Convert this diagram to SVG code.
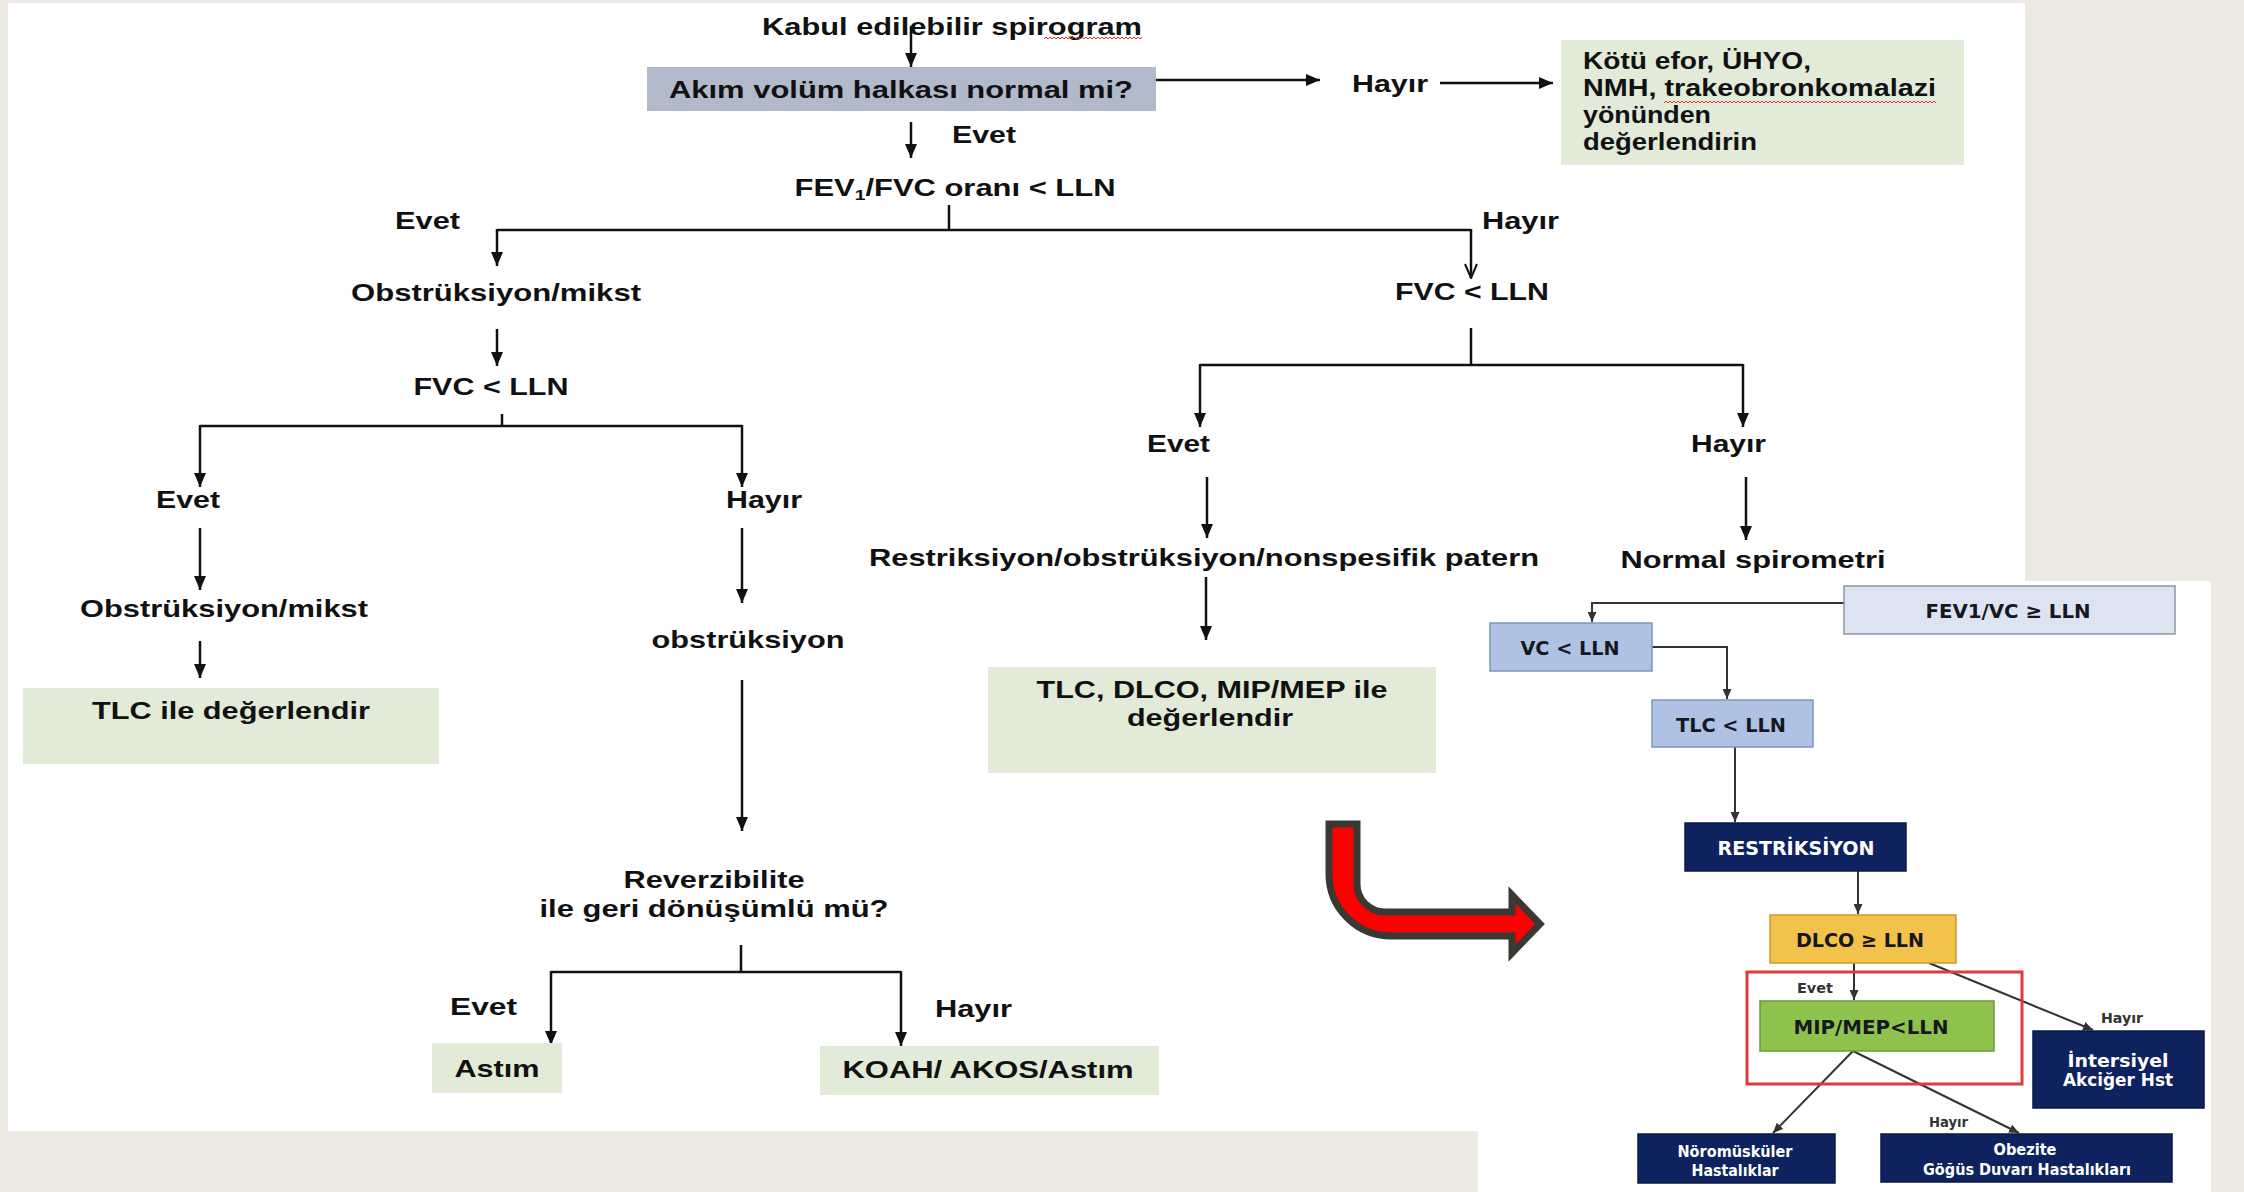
<svg xmlns="http://www.w3.org/2000/svg" width="2244" height="1192" viewBox="0 0 2244 1192">
<defs>
<style>
.t{font-family:"Liberation Sans",Arial,sans-serif;font-weight:bold;font-size:24px;fill:#111}
.tg{font-family:"Liberation Sans",Arial,sans-serif;font-weight:bold;font-size:23px;fill:#111}
.ti{font-family:"DejaVu Sans Condensed","DejaVu Sans",Verdana,sans-serif;font-weight:bold;font-size:20px;fill:#16181f}
.tw{font-family:"DejaVu Sans Condensed","DejaVu Sans",Verdana,sans-serif;font-weight:bold;fill:#fff}
.ts{font-family:"DejaVu Sans Condensed","DejaVu Sans",Verdana,sans-serif;font-weight:bold;font-size:14px;fill:#333}
.ln{stroke:#111;stroke-width:2.5;fill:none}
.la{stroke:#111;stroke-width:2.5;fill:none;marker-end:url(#ah)}
.li{stroke:#333;stroke-width:2;fill:none;marker-end:url(#as)}
.gb{fill:#E2EAD8}
.navy{fill:#0F2260;stroke:#0A1845;stroke-width:1.5}
</style>
<marker id="ah" viewBox="0 0 14 12" refX="14" refY="6" markerWidth="14" markerHeight="12" markerUnits="userSpaceOnUse" orient="auto"><path d="M0,0L14,6L0,12Z" fill="#111"/></marker>
<marker id="ao" viewBox="0 0 16 14" refX="15" refY="7" markerWidth="16" markerHeight="14" markerUnits="userSpaceOnUse" orient="auto"><path d="M1,1L15,7L1,13" fill="none" stroke="#111" stroke-width="2"/></marker>
<marker id="as" viewBox="0 0 10 9" refX="10" refY="4.5" markerWidth="10" markerHeight="9" markerUnits="userSpaceOnUse" orient="auto"><path d="M0,0L10,4.5L0,9Z" fill="#333"/></marker>
<pattern id="sq" width="4" height="4" patternUnits="userSpaceOnUse"><path d="M0,3L2,1L4,3" fill="none" stroke="#D83030" stroke-width="1"/></pattern>
</defs>

<rect x="0" y="0" width="2244" height="1192" fill="#EDEAE3"/>
<rect x="8" y="3" width="2017" height="1128" fill="#FFFFFF"/>

<g id="connectors">
<line class="la" x1="911" y1="26" x2="911" y2="67"/>
<line class="la" x1="1156" y1="80" x2="1320" y2="80"/>
<line class="la" x1="1440" y1="83" x2="1553" y2="83"/>
<line class="la" x1="911" y1="122" x2="911" y2="158"/>
<line class="ln" x1="949" y1="205" x2="949" y2="230"/>
<polyline class="ln" points="497,230 1471,230"/>
<line class="la" x1="497" y1="229" x2="497" y2="266"/>
<line class="ln" x1="1471" y1="229" x2="1471" y2="278" style="marker-end:url(#ao)"/>
<line class="la" x1="497" y1="329" x2="497" y2="366"/>
<line class="ln" x1="502" y1="414" x2="502" y2="426"/>
<line class="ln" x1="200" y1="426" x2="742" y2="426"/>
<line class="la" x1="200" y1="425" x2="200" y2="487"/>
<line class="la" x1="742" y1="425" x2="742" y2="487"/>
<line class="la" x1="200" y1="528" x2="200" y2="590"/>
<line class="la" x1="742" y1="528" x2="742" y2="603"/>
<line class="la" x1="200" y1="641" x2="200" y2="678"/>
<line class="la" x1="742" y1="680" x2="742" y2="831"/>
<line class="ln" x1="741" y1="945" x2="741" y2="972"/>
<line class="ln" x1="551" y1="972" x2="901" y2="972"/>
<line class="la" x1="551" y1="971" x2="551" y2="1045"/>
<line class="la" x1="901" y1="971" x2="901" y2="1046"/>
<line class="ln" x1="1471" y1="328" x2="1471" y2="365"/>
<line class="ln" x1="1200" y1="365" x2="1743" y2="365"/>
<line class="la" x1="1200" y1="364" x2="1200" y2="427"/>
<line class="la" x1="1743" y1="364" x2="1743" y2="427"/>
<line class="la" x1="1207" y1="477" x2="1207" y2="538"/>
<line class="la" x1="1746" y1="477" x2="1746" y2="540"/>
<line class="la" x1="1206" y1="577" x2="1206" y2="640"/>
</g>

<g id="spirogram-label">
<text class="t" x="952" y="35" text-anchor="middle" textLength="380" lengthAdjust="spacingAndGlyphs">Kabul edilebilir spirogram</text>
<rect x="1044" y="36" width="98" height="4" fill="url(#sq)"/>
</g>

<g id="node-akim">
<rect x="647" y="67" width="509" height="44" fill="#B1BACB"/>
<text class="t" x="901" y="98" text-anchor="middle" textLength="464" lengthAdjust="spacingAndGlyphs">Akım volüm halkası normal mi?</text>
</g>

<g id="label-hayir-top"><text class="t" x="1352" y="92" textLength="76" lengthAdjust="spacingAndGlyphs">Hayır</text></g>

<g id="node-kotu-efor">
<rect x="1561" y="40" width="403" height="125" class="gb"/>
<text class="tg" x="1583" y="69" textLength="228" lengthAdjust="spacingAndGlyphs">Kötü efor, ÜHYO,</text>
<text class="tg" x="1583" y="96" textLength="353" lengthAdjust="spacingAndGlyphs">NMH, trakeobronkomalazi</text>
<text class="tg" x="1583" y="123" textLength="128" lengthAdjust="spacingAndGlyphs">yönünden</text>
<text class="tg" x="1583" y="150" textLength="174" lengthAdjust="spacingAndGlyphs">değerlendirin</text>
<rect x="1664" y="100" width="272" height="4" fill="url(#sq)"/>
</g>

<g id="label-evet-top"><text class="t" x="952" y="143" textLength="64" lengthAdjust="spacingAndGlyphs">Evet</text></g>

<g id="node-fev1fvc">
<text class="t" x="955" y="196" text-anchor="middle" textLength="321" lengthAdjust="spacingAndGlyphs">FEV<tspan font-size="15" dy="4">1</tspan><tspan dy="-4">/FVC oranı &lt; LLN</tspan></text>
</g>

<g id="labels-level2">
<text class="t" x="395" y="229" textLength="65" lengthAdjust="spacingAndGlyphs">Evet</text>
<text class="t" x="1482" y="229" textLength="77" lengthAdjust="spacingAndGlyphs">Hayır</text>
</g>

<g id="node-obstr-mikst-1"><text class="t" x="496" y="301" text-anchor="middle" textLength="290" lengthAdjust="spacingAndGlyphs">Obstrüksiyon/mikst</text></g>
<g id="node-fvc-left"><text class="t" x="491" y="395" text-anchor="middle" textLength="155" lengthAdjust="spacingAndGlyphs">FVC &lt; LLN</text></g>
<g id="labels-level3">
<text class="t" x="156" y="508" textLength="64" lengthAdjust="spacingAndGlyphs">Evet</text>
<text class="t" x="726" y="508" textLength="76" lengthAdjust="spacingAndGlyphs">Hayır</text>
</g>
<g id="node-obstr-mikst-2"><text class="t" x="224" y="617" text-anchor="middle" textLength="288" lengthAdjust="spacingAndGlyphs">Obstrüksiyon/mikst</text></g>
<g id="node-tlc-ile">
<rect x="23" y="688" width="416" height="76" class="gb"/>
<text class="t" x="231" y="719" text-anchor="middle" textLength="278" lengthAdjust="spacingAndGlyphs">TLC ile değerlendir</text>
</g>
<g id="node-obstruksiyon"><text class="t" x="748" y="648" text-anchor="middle" textLength="193" lengthAdjust="spacingAndGlyphs">obstrüksiyon</text></g>
<g id="node-reverzibilite">
<text class="t" x="714" y="888" text-anchor="middle" textLength="181" lengthAdjust="spacingAndGlyphs">Reverzibilite</text>
<text class="t" x="714" y="917" text-anchor="middle" textLength="349" lengthAdjust="spacingAndGlyphs">ile geri dönüşümlü mü?</text>
</g>
<g id="labels-level5">
<text class="t" x="450" y="1015" textLength="67" lengthAdjust="spacingAndGlyphs">Evet</text>
<text class="t" x="935" y="1017" textLength="77" lengthAdjust="spacingAndGlyphs">Hayır</text>
</g>
<g id="node-astim">
<rect x="432" y="1043" width="130" height="50" class="gb"/>
<text class="t" x="497" y="1077" text-anchor="middle" textLength="85" lengthAdjust="spacingAndGlyphs">Astım</text>
</g>
<g id="node-koah">
<rect x="820" y="1046" width="339" height="49" class="gb"/>
<text class="t" x="988" y="1078" text-anchor="middle" textLength="291" lengthAdjust="spacingAndGlyphs">KOAH/ AKOS/Astım</text>
</g>

<g id="node-fvc-right"><text class="t" x="1472" y="300" text-anchor="middle" textLength="154" lengthAdjust="spacingAndGlyphs">FVC &lt; LLN</text></g>
<g id="labels-right">
<text class="t" x="1147" y="452" textLength="63" lengthAdjust="spacingAndGlyphs">Evet</text>
<text class="t" x="1691" y="452" textLength="75" lengthAdjust="spacingAndGlyphs">Hayır</text>
</g>
<g id="node-restr-patern"><text class="t" x="1204" y="566" text-anchor="middle" textLength="670" lengthAdjust="spacingAndGlyphs">Restriksiyon/obstrüksiyon/nonspesifik patern</text></g>
<g id="node-normal"><text class="t" x="1753" y="568" text-anchor="middle" textLength="265" lengthAdjust="spacingAndGlyphs">Normal spirometri</text></g>
<g id="node-tlc-dlco">
<rect x="988" y="667" width="448" height="106" class="gb"/>
<text class="t" x="1212" y="698" text-anchor="middle" textLength="351" lengthAdjust="spacingAndGlyphs">TLC, DLCO, MIP/MEP ile</text>
<text class="t" x="1210" y="726" text-anchor="middle" textLength="166" lengthAdjust="spacingAndGlyphs">değerlendir</text>
</g>

<g id="inset">
<rect x="1478" y="581" width="733" height="611" fill="#FFFFFF"/>
<g id="inset-connectors">
<path class="li" d="M1844,603 H1592 V622"/>
<path class="li" d="M1652,647 H1727 V699"/>
<path class="li" d="M1735,747 V822"/>
<path class="li" d="M1858,871 V914"/>
<path class="li" d="M1854,963 V1000"/>
<path class="li" d="M1929,963 L2093,1030"/>
<path class="li" d="M1853,1051 L1773,1133"/>
<path class="li" d="M1853,1051 L2019,1133"/>
</g>
<g id="node-fev1vc">
<rect x="1844" y="586" width="331" height="48" fill="#DCE3F1" stroke="#8F96A3" stroke-width="1.5"/>
<text class="ti" x="2008" y="618" text-anchor="middle" textLength="165" lengthAdjust="spacingAndGlyphs">FEV1/VC ≥ LLN</text>
</g>
<g id="node-vc">
<rect x="1490" y="623" width="162" height="48" fill="#AFC2E4" stroke="#8095BA" stroke-width="1.5"/>
<text class="ti" x="1570" y="655" text-anchor="middle" textLength="99" lengthAdjust="spacingAndGlyphs">VC &lt; LLN</text>
</g>
<g id="node-tlc">
<rect x="1652" y="700" width="161" height="47" fill="#AFC2E4" stroke="#8095BA" stroke-width="1.5"/>
<text class="ti" x="1731" y="732" text-anchor="middle" textLength="110" lengthAdjust="spacingAndGlyphs">TLC &lt; LLN</text>
</g>
<g id="node-restriksiyon">
<rect x="1685" y="823" width="221" height="48" class="navy"/>
<text class="tw" x="1796" y="855" font-size="20" text-anchor="middle" textLength="157" lengthAdjust="spacingAndGlyphs">RESTRİKSİYON</text>
</g>
<g id="node-dlco">
<rect x="1770" y="915" width="186" height="48" fill="#F2C24B" stroke="#C89B2E" stroke-width="1.5"/>
<text class="ti" x="1860" y="947" text-anchor="middle" textLength="128" lengthAdjust="spacingAndGlyphs">DLCO ≥ LLN</text>
</g>
<rect x="1747" y="972" width="275" height="112" fill="none" stroke="#E03A3A" stroke-width="3"/>
<text class="ts" x="1797" y="993" textLength="36" lengthAdjust="spacingAndGlyphs">Evet</text>
<g id="node-mip">
<rect x="1760" y="1001" width="234" height="50" fill="#8FC24C" stroke="#6B9A3C" stroke-width="1.5"/>
<text class="ti" x="1871" y="1034" text-anchor="middle" textLength="155" lengthAdjust="spacingAndGlyphs">MIP/MEP&lt;LLN</text>
</g>
<text class="ts" x="2101" y="1023" textLength="42" lengthAdjust="spacingAndGlyphs">Hayır</text>
<g id="node-intersiyel">
<rect x="2033" y="1031" width="171" height="77" class="navy"/>
<text class="tw" x="2118" y="1067" font-size="18" text-anchor="middle" textLength="101" lengthAdjust="spacingAndGlyphs">İntersiyel</text>
<text class="tw" x="2118" y="1086" font-size="18" text-anchor="middle" textLength="110" lengthAdjust="spacingAndGlyphs">Akciğer Hst</text>
</g>
<text class="ts" x="1929" y="1127" textLength="39" lengthAdjust="spacingAndGlyphs">Hayır</text>
<g id="node-noromuskuler">
<rect x="1638" y="1134" width="197" height="49" class="navy"/>
<text class="tw" x="1735" y="1157" font-size="15" text-anchor="middle" textLength="115" lengthAdjust="spacingAndGlyphs">Nöromüsküler</text>
<text class="tw" x="1735" y="1176" font-size="15" text-anchor="middle" textLength="87" lengthAdjust="spacingAndGlyphs">Hastalıklar</text>
</g>
<g id="node-obezite">
<rect x="1881" y="1134" width="291" height="48" class="navy"/>
<text class="tw" x="2025" y="1155" font-size="15" text-anchor="middle" textLength="63" lengthAdjust="spacingAndGlyphs">Obezite</text>
<text class="tw" x="2027" y="1175" font-size="15" text-anchor="middle" textLength="208" lengthAdjust="spacingAndGlyphs">Göğüs Duvarı Hastalıkları</text>
</g>
</g>

<g id="red-arrow">
<path d="M1329,824 V874 A62,62 0 0 0 1391,936 H1512 V953 L1540,924 L1512,895 V912 H1385 A28,28 0 0 1 1357,884 V824 Z" fill="#FF0000" stroke="#3A3833" stroke-width="7" stroke-linejoin="miter"/>
</g>
</svg>
